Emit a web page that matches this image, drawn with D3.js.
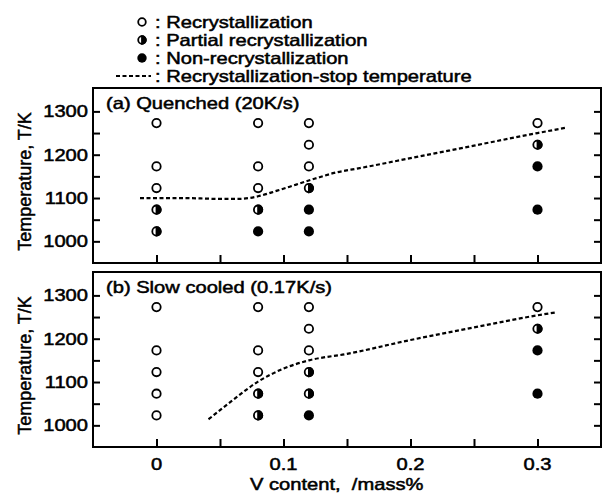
<!DOCTYPE html>
<html>
<head>
<meta charset="utf-8">
<script src="https://cdn.jsdelivr.net/npm/d3@7"></script>
<style>
  body { margin: 0; background: #fff; }
  text { font-family: "Liberation Sans", Arial, sans-serif; fill: #000; stroke: #000; stroke-width: 0.5px; }
</style>
</head>
<body>
<div id="chart"></div>
<script>

// tick values
const xTicks = [0, 0.1, 0.2, 0.3];
const xMinorTicks = [0, 0.05, 0.1, 0.15, 0.2, 0.25, 0.3];
const yTicks = [1000, 1100, 1200, 1300];
const yMinorTicks = [1000, 1050, 1100, 1150, 1200, 1250, 1300];

// R = recrystallization, P = partial, N = non-recrystallization
const quenchedV = [0, 0, 0, 0, 0, 0.08, 0.08, 0.08, 0.08, 0.08, 0.12, 0.12, 0.12, 0.12, 0.12, 0.12, 0.3, 0.3, 0.3, 0.3];
const quenchedT = [1273, 1173, 1123, 1073, 1023, 1273, 1173, 1123, 1073, 1023, 1273, 1223, 1173, 1123, 1073, 1023, 1273, 1223, 1173, 1073];
const quenchedState = ["R", "R", "R", "P", "P", "R", "R", "R", "P", "N", "R", "R", "R", "P", "N", "N", "R", "P", "N", "N"];

const slowV = [0, 0, 0, 0, 0, 0.08, 0.08, 0.08, 0.08, 0.08, 0.12, 0.12, 0.12, 0.12, 0.12, 0.12, 0.3, 0.3, 0.3, 0.3];
const slowT = [1273, 1173, 1123, 1073, 1023, 1273, 1173, 1123, 1073, 1023, 1273, 1223, 1173, 1123, 1073, 1023, 1273, 1223, 1173, 1073];
const slowState = ["R", "R", "R", "R", "R", "R", "R", "R", "P", "P", "R", "R", "R", "P", "P", "N", "R", "P", "N", "N"];

// recrystallization-stop temperature lines
const quenchedStopV = [-0.013, 0.02, 0.05, 0.065, 0.08, 0.095, 0.11, 0.125, 0.14, 0.16, 0.2, 0.25, 0.3, 0.322];
const quenchedStopT = [1100, 1100, 1098, 1098, 1104, 1117, 1131, 1145, 1158, 1169, 1192, 1221, 1250, 1262];
const slowStopV = [0.041, 0.06, 0.08, 0.1, 0.12, 0.15, 0.2, 0.25, 0.3, 0.315];
const slowStopT = [1014, 1058, 1101, 1131, 1150, 1165, 1197, 1226, 1254, 1261];

const legendLabels = ["Recrystallization", "Partial recrystallization", "Non-recrystallization", "Recrystallization-stop temperature"];

const width = 610, height = 494;
const left = 93, right = 601;
const stretch = 1.22; // scanned glyphs are wide

const svg = d3.select("#chart")
  .append("svg")
  .attr("width", width)
  .attr("height", height);

// widen text horizontally to match the scan
function widen(sel) {
  sel.each(function () {
    let L = this.getComputedTextLength();
    d3.select(this).attr("textLength", L * stretch).attr("lengthAdjust", "spacingAndGlyphs");
  });
}

let x = d3.scaleLinear()
  .domain([-0.05, 0.35])
  .range([left, right]);

let panels = [
  { label: "(a) Quenched (20K/s)", top: 88, bottom: 263, v: quenchedV, t: quenchedT, s: quenchedState, lv: quenchedStopV, lt: quenchedStopT },
  { label: "(b) Slow cooled (0.17K/s)", top: 272, bottom: 447, v: slowV, t: slowT, s: slowState, lv: slowStopV, lt: slowStopT }
];

function drawMarker(g, cx, cy, state, r) {
  if (state === "N") {
    g.append("circle").attr("cx", cx).attr("cy", cy).attr("r", r + 0.9).attr("fill", "#000");
  } else {
    g.append("circle").attr("cx", cx).attr("cy", cy).attr("r", r)
      .attr("fill", "#fff").attr("stroke", "#000").attr("stroke-width", 1.8);
    if (state === "P") {
      // right half filled
      g.append("path")
        .attr("d", `M${cx},${cy - r} A${r},${r} 0 0 1 ${cx},${cy + r} Z`)
        .attr("fill", "#000").attr("stroke", "#000").attr("stroke-width", 1.8);
    }
  }
}

for (let p of panels) {
  let y = d3.scaleLinear()
    .domain([950, 1354])
    .range([p.bottom, p.top]);

  let g = svg.append("g");

  // frame
  g.append("rect")
    .attr("x", left).attr("y", p.top)
    .attr("width", right - left).attr("height", p.bottom - p.top)
    .attr("fill", "none").attr("stroke", "#000").attr("stroke-width", 2);

  // y ticks, left and right, pointing inward
  g.append("g")
    .attr("transform", `translate(${left},0)`)
    .call(d3.axisRight(y).tickValues(yMinorTicks).tickSize(7).tickFormat(""))
    .call(a => a.select(".domain").remove())
    .selectAll("line").attr("stroke-width", 2);

  g.append("g")
    .attr("transform", `translate(${right},0)`)
    .call(d3.axisLeft(y).tickValues(yMinorTicks).tickSize(7).tickFormat(""))
    .call(a => a.select(".domain").remove())
    .selectAll("line").attr("stroke-width", 2);

  // y tick labels
  g.selectAll(".ylab")
    .data(yTicks)
    .join("text")
    .attr("x", left - 5)
    .attr("y", d => y(d))
    .attr("dy", "0.36em")
    .attr("text-anchor", "end")
    .attr("font-size", 16.5)
    .text(d => d)
    .call(widen);

  // x ticks pointing up
  g.append("g")
    .attr("transform", `translate(0,${p.bottom})`)
    .call(d3.axisTop(x).tickValues(xMinorTicks).tickSize(8).tickFormat(""))
    .call(a => a.select(".domain").remove())
    .selectAll("line").attr("stroke-width", 2);

  // panel label
  g.append("text")
    .attr("x", 106)
    .attr("y", p.top + 15)
    .attr("dy", "0.36em")
    .attr("font-size", 16.5)
    .text(p.label)
    .call(widen);

  // y title
  g.append("text")
    .attr("transform", `translate(31,${(p.top + p.bottom) / 2 + 6}) rotate(-90)`)
    .attr("text-anchor", "middle")
    .attr("font-size", 18)
    .attr("stroke-width", 0.8)
    .text("Temperature, T/K");

  // stop temperature line
  let lineData = p.lv.map((v, i) => [v, p.lt[i]]);
  g.append("path")
    .datum(lineData)
    .attr("fill", "none")
    .attr("stroke", "#000")
    .attr("stroke-width", 2.2)
    .attr("stroke-dasharray", "4,2.5")
    .attr("d", d3.line().x(d => x(d[0])).y(d => y(d[1])).curve(d3.curveMonotoneX));

  // markers
  p.v.forEach((v, i) => drawMarker(g, x(v), y(p.t[i]), p.s[i], 4.2));
}

// x tick labels and title
svg.selectAll(".xlab")
  .data(xTicks)
  .join("text")
  .attr("x", d => x(d))
  .attr("y", 464)
  .attr("dy", "0.36em")
  .attr("text-anchor", "middle")
  .attr("font-size", 16.5)
  .text(d => d)
  .call(widen);

svg.append("text")
  .attr("x", 250)
  .attr("y", 484)
  .attr("dy", "0.36em")
  .attr("font-size", 16.5)
  .style("white-space", "pre")
  .text("V content,  /mass%")
  .call(widen);

// legend
let legend = svg.append("g");
const legendStates = ["R", "P", "N"];
legendLabels.forEach((lab, i) => {
  let ly = 22 + i * 18;
  if (i < 3) {
    drawMarker(legend, 142, ly, legendStates[i], 3.8);
  } else {
    legend.append("line")
      .attr("x1", 116).attr("x2", 151)
      .attr("y1", ly).attr("y2", ly)
      .attr("stroke", "#000").attr("stroke-width", 1.8)
      .attr("stroke-dasharray", "4,2.5");
  }
  legend.append("text")
    .attr("x", 155)
    .attr("y", ly)
    .attr("dy", "0.36em")
    .attr("font-size", 16.5)
    .text(": " + lab)
    .call(widen);
});

</script>
</body>
</html>
